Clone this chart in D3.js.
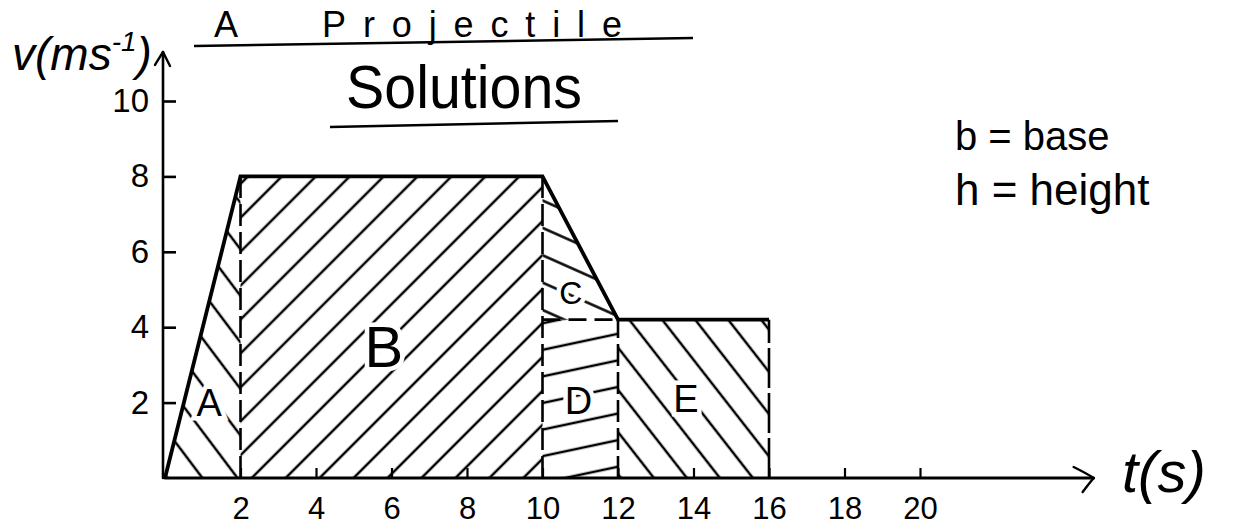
<!DOCTYPE html>
<html>
<head>
<meta charset="utf-8">
<script src="https://cdn.jsdelivr.net/npm/d3@7"></script>
<style>
  html, body { margin: 0; padding: 0; background: #fff; }
  svg { display: block; }
  text { font-family: "Liberation Sans", "DejaVu Sans", sans-serif; fill: #000; }
</style>
</head>
<body>
<svg id="chart" width="1248" height="526"></svg>
<script>
// Velocity–time graph of the motion (t in s, v in m/s)
const times = [0, 2, 10, 12, 16];
const velocities = [0, 8, 8, 4.2, 4.2];

// Axis ticks
const xTicks = [2, 4, 6, 8, 10, 12, 14, 16, 18, 20];
const yTicks = [2, 4, 6, 8, 10];

// Area labels and where they sit (data units)
const regionNames = ["A", "B", "C", "D", "E"];
const regionLabelT = [1.17, 5.8, 10.75, 10.95, 13.8];
const regionLabelV = [2.0, 3.5, 4.9, 2.05, 2.1];

// How far the axis arrows run past the last tick (data units)
const axisEndT = 24.6;
const axisEndV = 11.3;

const svg = d3.select("#chart");
const x = d3.scaleLinear().domain([0, 20]).range([165, 920]);
const y = d3.scaleLinear().domain([0, 10]).range([478, 101]);

// ---- hatch patterns, one per area ----
const hatchStyle = [
  { angle: 53,  gap: 28 },   // A  "\"
  { angle: -45, gap: 24 },   // B  "/"
  { angle: 24,  gap: 25 },   // C  shallow "\"
  { angle: -12, gap: 26 },   // D  nearly flat, rising
  { angle: 52,  gap: 26 }    // E  "\"
];
const defs = svg.append("defs");
hatchStyle.forEach((h, i) => {
  const p = defs.append("pattern")
    .attr("id", "hatch" + i)
    .attr("patternUnits", "userSpaceOnUse")
    .attr("width", 200).attr("height", h.gap)
    .attr("patternTransform", `rotate(${h.angle})`);
  p.append("line")
    .attr("x1", 0).attr("x2", 200)
    .attr("y1", h.gap / 2).attr("y2", h.gap / 2)
    .attr("stroke", "#000").attr("stroke-width", 2.4);
});

// ---- area polygons built from the data ----
const pts = times.map((t, i) => [t, velocities[i]]);
const regions = [];
for (let k = 0; k < pts.length - 1; k++) {
  const [t0, v0] = pts[k], [t1, v1] = pts[k + 1];
  if (v0 !== v1 && k > 0) {
    // deceleration strip: triangle above, rectangle below
    regions.push([[t0, v1], [t0, v0], [t1, v1]]);
    regions.push([[t0, 0], [t0, v1], [t1, v1], [t1, 0]]);
  } else {
    regions.push([[t0, 0], [t0, v0], [t1, v1], [t1, 0]]);
  }
}
const toPx = poly => poly.map(([t, v]) => [x(t), y(v)].join(",")).join(" ");

svg.append("g").selectAll("polygon")
  .data(regions)
  .join("polygon")
  .attr("points", d => toPx(d))
  .attr("fill", (d, i) => `url(#hatch${i})`)
  .attr("stroke", "none");

// ---- dashed dividers ----
const dashed = svg.append("g")
  .attr("stroke", "#000").attr("stroke-width", 2.6).attr("fill", "none");
[1, 2, 3].forEach(i => {
  dashed.append("line")
    .attr("x1", x(times[i])).attr("x2", x(times[i]))
    .attr("y1", y(0)).attr("y2", y(velocities[i]))
    .attr("stroke-dasharray", "22 6");
});
dashed.append("line")
  .attr("x1", x(times[4])).attr("x2", x(times[4]))
  .attr("y1", y(0)).attr("y2", y(velocities[4]))
  .attr("stroke-dasharray", "40 5");
dashed.append("line")
  .attr("x1", x(times[2])).attr("x2", x(times[3]))
  .attr("y1", y(velocities[3])).attr("y2", y(velocities[3]))
  .attr("stroke-dasharray", "18 8");

// ---- velocity trace ----
svg.append("path")
  .datum(pts)
  .attr("d", d3.line().x(d => x(d[0])).y(d => y(d[1])))
  .attr("fill", "none").attr("stroke", "#000")
  .attr("stroke-width", 3.8).attr("stroke-linejoin", "miter");

// ---- axes ----
const xAxis = svg.append("g")
  .attr("transform", `translate(0,${y(0)})`)
  .call(d3.axisBottom(x).tickValues(xTicks).tickSizeInner(-10).tickSizeOuter(0).tickPadding(19));
xAxis.select(".domain").remove();
xAxis.attr("font-family", null);
xAxis.selectAll("text").style("font-size", "31px");
xAxis.selectAll("line").attr("stroke-width", 2.2);

const yAxis = svg.append("g")
  .attr("transform", `translate(${x(0) - 2},0)`)
  .call(d3.axisLeft(y).tickValues(yTicks).tickSizeInner(-13).tickSizeOuter(0).tickPadding(14));
yAxis.select(".domain").remove();
yAxis.attr("font-family", null);
yAxis.selectAll("text").style("font-size", "33px");
yAxis.selectAll("line").attr("stroke-width", 2.6);

const axes = svg.append("g").attr("stroke", "#000").attr("fill", "none")
  .attr("stroke-linecap", "round").attr("stroke-linejoin", "round");
axes.append("line")
  .attr("x1", x(0)).attr("x2", x(axisEndT)).attr("y1", y(0)).attr("y2", y(0))
  .attr("stroke-width", 3);
axes.append("line")
  .attr("x1", x(0) - 2).attr("x2", x(0) - 2).attr("y1", y(0)).attr("y2", y(axisEndV))
  .attr("stroke-width", 2.6);
// arrow heads
const ax = x(axisEndT), ay = y(0);
axes.append("path")
  .attr("d", `M${ax - 20},${ay - 11} Q${ax - 6},${ay - 4} ${ax},${ay} Q${ax - 5},${ay + 6} ${ax - 11},${ay + 14}`)
  .attr("stroke-width", 2.4);
const bx = x(0) - 2, by = y(axisEndV);
axes.append("path")
  .attr("d", `M${bx - 8},${by + 13} L${bx},${by} L${bx + 7},${by + 14}`)
  .attr("stroke-width", 2.4);

// ---- area labels ----
svg.append("g").selectAll("text")
  .data(regionNames)
  .join("text")
  .attr("x", (d, i) => x(regionLabelT[i]))
  .attr("y", (d, i) => y(regionLabelV[i]))
  .attr("text-anchor", "middle")
  .attr("dominant-baseline", "central")
  .attr("font-size", (d, i) => i === 1 ? 58 : (i === 2 ? 32 : 38))
  .attr("stroke", "#fff").attr("stroke-width", 9)
  .attr("paint-order", "stroke")
  .text(d => d);

// ---- axis titles ----
const vLabel = svg.append("text")
  .attr("x", 12).attr("y", 70)
  .attr("font-size", 46)
  .attr("font-style", "italic");
vLabel.append("tspan").text("v(ms");
vLabel.append("tspan").attr("font-size", 28).attr("dy", -19).text("-1");
vLabel.append("tspan").attr("dy", 19).text(")");

svg.append("text")
  .attr("x", 1122).attr("y", 492)
  .attr("font-size", 58)
  .attr("font-style", "italic")
  .text("t(s)");

// ---- heading ----
svg.append("text").attr("x", 214).attr("y", 37).attr("font-size", 36).text("A");
svg.append("text").attr("x", 322).attr("y", 37).attr("font-size", 36)
  .attr("textLength", 300).attr("lengthAdjust", "spacing").text("Projectile");
svg.append("line").attr("x1", 194).attr("y1", 46).attr("x2", 693).attr("y2", 38)
  .attr("stroke", "#000").attr("stroke-width", 2.4);
svg.append("text").attr("x", 346).attr("y", 108).attr("font-size", 62)
  .attr("textLength", 236).attr("lengthAdjust", "spacingAndGlyphs").text("Solutions");
svg.append("line").attr("x1", 330).attr("y1", 127).attr("x2", 618).attr("y2", 121)
  .attr("stroke", "#000").attr("stroke-width", 2.4);

// ---- key ----
svg.append("text").attr("x", 955).attr("y", 150).attr("font-size", 40).text("b = base");
svg.append("text").attr("x", 955).attr("y", 205).attr("font-size", 44).text("h = height");
</script>
</body>
</html>
